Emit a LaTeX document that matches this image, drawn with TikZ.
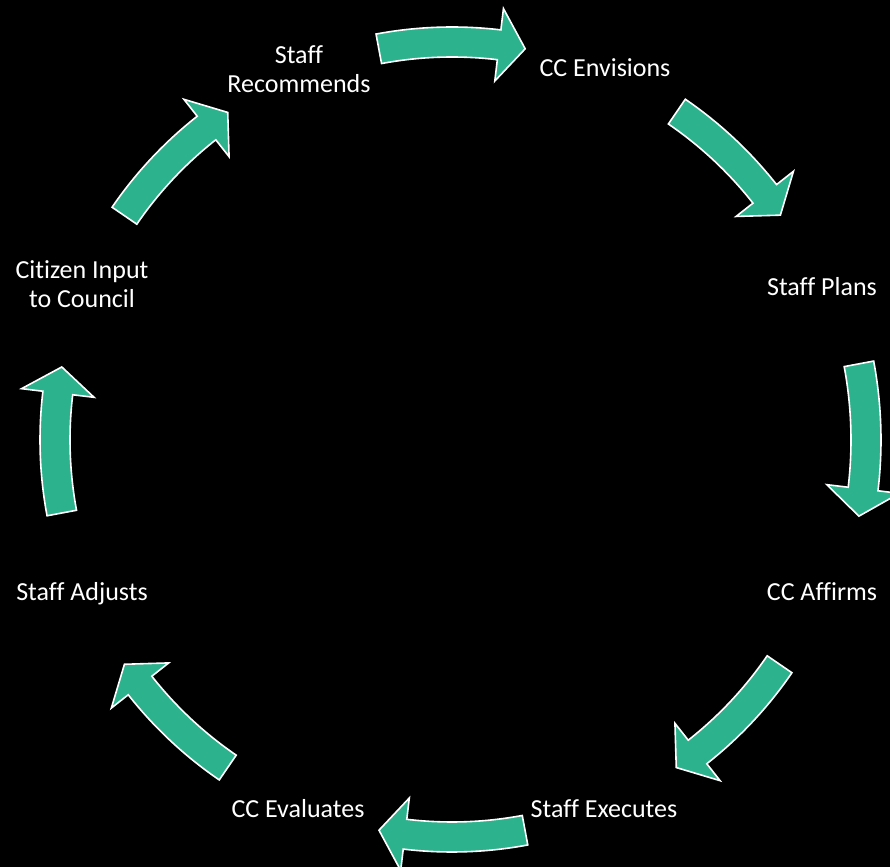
\documentclass[tikz,border=0pt]{standalone}
\usepackage{fontspec}
\setmainfont{Carlito}[Ligatures=NoCommon]
\definecolor{cyteal}{RGB}{44,178,140}
\newcommand{\cycarrow}[2]{%
  \pgfmathsetmacro\caA{#1+10.6}%
  \pgfmathsetmacro\caB{#1-10.6+3.8}%
  \pgfmathsetmacro\caT{#1-10.6}%
  \pgfmathsetmacro\caRo{#2+15}%
  \pgfmathsetmacro\caRi{#2-15}%
  \pgfmathsetmacro\caHo{#2+36.5}%
  \pgfmathsetmacro\caHi{#2-36.5}%
  \draw[cyc] (\caA:\caRo) arc[start angle=\caA, end angle=\caB, radius=\caRo]
    -- (\caB:\caHo) -- (\caT:#2) -- (\caB:\caHi) -- (\caB:\caRi)
    arc[start angle=\caB, end angle=\caA, radius=\caRi] -- cycle;%
}
\begin{document}
\begin{tikzpicture}[x=1pt,y=1pt,
  cyc/.style={fill=cyteal, draw=white, line width=1.6pt, line join=miter},
  lbl/.style={text=white, font=\fontsize{26}{29}\selectfont, align=center, inner sep=0pt, anchor=base}]
\fill[black] (0,0) rectangle (890,867);
\useasboundingbox (0,0) rectangle (890,867);
\begin{scope}[shift={(452,427)}]
  \cycarrow{90}{398}
  \cycarrow{45}{398}
  \cycarrow{0}{414}
  \cycarrow{-45}{397}
  \cycarrow{-90}{397}
  \cycarrow{-135}{397}
  \cycarrow{180}{397}
  \cycarrow{135}{397}
\end{scope}
\node[lbl] (rec) at (299,774) {Staff\\Recommends};
\node[lbl] (env) at (605,790) {CC Envisions};
\node[lbl] (pla) at (822,571) {Staff Plans};
\node[lbl] (aff) at (822,266) {CC Affirms};
\node[lbl] (exe) at (604,50) {Staff Executes};
\node[lbl] (eva) at (298,50) {CC Evaluates};
\node[lbl] (adj) at (82,266) {Staff Adjusts};
\node[lbl] (cit) at (82,559) {Citizen Input\\to Council};
\end{tikzpicture}
\end{document}
